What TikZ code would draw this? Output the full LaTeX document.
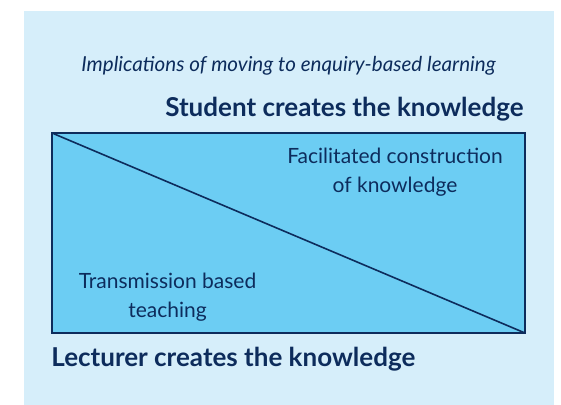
\documentclass[tikz,border=0pt]{standalone}
\usepackage{fontspec}
\setmainfont{Lato}
\usepackage{tikz}

\definecolor{paleblue}{HTML}{D6EEFA}
\definecolor{boxblue}{HTML}{6CCDF3}
\definecolor{navy}{HTML}{0D2C5C}

\begin{document}
\begin{tikzpicture}[
                x=0.5pt, y=-0.5pt, % one unit is one pixel of the original
                every node/.style={text=navy, inner sep=0pt, font=\fontsize{10.5}{14.5}\selectfont}, % Text colour for nodes
                heading/.style={font=\fontsize{13}{14}\selectfont\bfseries}, % Bold labels outside the box
                corner/.style={align=center}, % Labels inside the box
                frame/.style={draw=navy, fill=boxblue, line width=1pt} % The box itself
                ]
                \useasboundingbox (0,0) rectangle (561,405);
                \fill[paleblue] (24,11) rectangle (554,405);
                \coordinate (tl) at (52,133);
                \coordinate (br) at (525,333);
                \draw[frame] (tl) rectangle (br);
                \draw[navy, line width=0.8pt] (tl) -- (br);
                \node[anchor=base, font=\fontsize{10.3}{14}\selectfont\itshape] (title) at (288.5,72) {Implications of moving to enquiry-based learning};
                \node[heading, anchor=base east] (student) at (524,117) {Student creates the knowledge};
                \node[corner] (facilitated) at (395,172) {Facilitated construction\\of knowledge};
                \node[corner] (transmission) at (167.5,297) {Transmission based\\teaching};
                \node[heading, anchor=base west] (lecturer) at (51,366) {Lecturer creates the knowledge};
            \end{tikzpicture}
\end{document}
